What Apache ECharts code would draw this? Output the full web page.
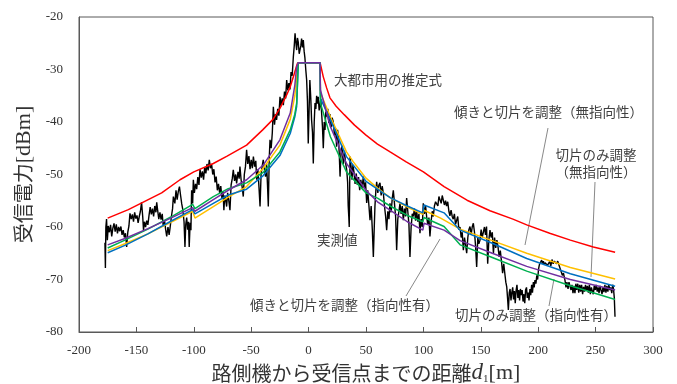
<!DOCTYPE html>
<html>
<head>
<meta charset="utf-8">
<script src="https://cdn.jsdelivr.net/npm/echarts@6/dist/echarts.min.js"></script>
<style>
html, body { margin: 0; padding: 0; background: #ffffff; }
#chart { width: 677px; height: 384px; }
</style>
</head>
<body>
<div id="chart"></div>
<script>
// 受信電力の実測値 [距離 d1 (m), 受信電力 (dBm)]
const measured = [
  [-177.4,-63.0],[-177.0,-67.8],[-176.6,-60.0],[-176.0,-58.5],[-175.3,-62.5],[-174.5,-59.8],
  [-173.5,-61.0],[-172.5,-59.6],[-171.5,-61.8],[-170.5,-60.2],[-169.5,-59.3],[-168.5,-60.9],
  [-167.5,-59.5],[-166.5,-61.2],[-165.5,-60.0],[-164.5,-60.8],[-163.5,-59.9],[-162.5,-61.5],
  [-161.5,-60.6],[-160.5,-62.0],[-159.5,-61.2],[-158.5,-63.8],[-157.5,-61.0],[-156.5,-59.8],
  [-155.6,-57.4],[-154.5,-58.5],[-153.5,-57.6],[-152.5,-59.0],[-151.5,-57.2],[-150.5,-58.4],
  [-149.5,-57.8],[-148.5,-59.2],[-147.5,-58.0],[-146.5,-57.0],[-145.5,-55.3],[-144.5,-58.0],
  [-143.8,-60.6],[-143.0,-59.0],[-142.0,-60.0],[-141.0,-58.8],[-140.0,-59.6],[-139.0,-57.8],
  [-138.0,-56.2],[-137.0,-57.6],[-136.0,-56.5],[-135.0,-58.0],[-134.0,-56.0],[-133.0,-57.2],
  [-132.3,-55.3],[-131.5,-56.8],[-130.5,-58.5],[-129.5,-57.2],[-128.5,-58.6],[-127.5,-57.5],
  [-126.6,-59.9],[-125.5,-58.8],[-124.5,-60.5],[-123.6,-61.8],[-122.5,-60.0],[-121.5,-61.5],
  [-120.7,-60.2],[-119.5,-58.0],[-118.5,-56.5],[-117.8,-54.2],[-116.5,-55.5],[-115.5,-53.0],
  [-114.5,-54.8],[-113.5,-53.2],[-112.5,-52.3],[-111.5,-54.0],[-110.5,-55.6],[-109.5,-56.8],
  [-108.5,-59.0],[-107.7,-63.8],[-107.0,-59.5],[-106.2,-58.2],[-105.4,-60.5],[-104.6,-59.0],
  [-104.0,-63.8],[-103.2,-59.2],[-102.5,-60.6],[-101.9,-53.0],[-101.0,-55.5],[-100.4,-51.0],
  [-99.5,-53.5],[-98.5,-51.8],[-97.5,-52.8],[-96.5,-50.5],[-95.5,-52.0],[-94.6,-49.0],
  [-93.5,-50.6],[-92.5,-49.4],[-91.5,-51.0],[-90.5,-48.6],[-89.5,-49.8],[-88.5,-48.0],
  [-87.5,-49.2],[-86.5,-47.2],[-85.5,-48.8],[-84.5,-48.0],[-83.5,-50.0],[-82.5,-49.0],
  [-81.5,-51.5],[-80.5,-50.4],[-79.5,-53.0],[-78.5,-51.8],[-77.5,-53.5],[-76.5,-52.2],
  [-75.5,-54.5],[-74.5,-53.2],[-73.8,-56.8],[-73.0,-54.0],[-72.0,-55.2],[-71.4,-56.1],
  [-70.5,-53.5],[-69.5,-55.0],[-68.5,-56.8],[-67.5,-52.0],[-66.5,-50.8],[-65.6,-49.1],
  [-64.5,-51.2],[-63.5,-50.0],[-62.7,-51.7],[-61.5,-49.5],[-60.5,-50.8],[-59.8,-48.5],
  [-58.8,-51.0],[-57.8,-52.5],[-56.9,-54.2],[-56.0,-50.0],[-55.0,-48.5],[-54.0,-45.3],
  [-53.0,-48.0],[-52.0,-46.5],[-51.0,-49.0],[-50.0,-47.2],[-49.0,-48.8],[-48.1,-46.6],
  [-47.0,-48.5],[-46.0,-47.4],[-45.2,-51.0],[-44.2,-49.0],[-43.2,-52.5],[-42.3,-56.1],
  [-41.4,-50.0],[-40.5,-48.5],[-39.5,-47.2],[-38.5,-49.0],[-37.5,-50.4],[-36.6,-48.0],
  [-35.8,-52.0],[-35.1,-56.1],[-34.3,-47.0],[-33.6,-43.4],[-32.6,-45.0],[-31.6,-42.0],
  [-30.7,-37.1],[-29.7,-40.5],[-28.8,-38.5],[-27.9,-39.6],[-26.9,-37.5],[-25.9,-38.8],
  [-24.9,-35.2],[-24.0,-37.0],[-23.0,-35.5],[-22.0,-36.8],[-21.0,-34.2],[-20.0,-35.5],
  [-19.1,-32.0],[-18.1,-34.0],[-17.2,-32.6],[-16.2,-33.8],[-15.3,-30.5],[-14.3,-31.2],
  [-13.3,-27.6],[-12.5,-25.5],[-11.8,-23.1],[-11.0,-25.0],[-10.4,-26.3],[-9.7,-24.0],
  [-9.0,-24.8],[-8.2,-27.0],[-7.5,-26.9],[-6.8,-25.5],[-6.1,-24.1],[-5.3,-25.8],
  [-4.6,-24.4],[-3.9,-26.5],[-3.2,-27.8],[-2.4,-30.2],[-1.7,-32.0],[-1.0,-36.0],
  [-0.3,-44.1],[0.4,-38.0],[1.1,-32.0],[1.9,-35.5],[2.6,-39.6],[3.4,-42.0],
  [4.1,-47.9],[4.9,-40.0],[5.6,-36.4],[6.3,-37.5],[7.0,-35.0],[7.7,-36.5],
  [8.4,-35.2],[9.2,-37.8],[9.9,-36.8],[10.6,-35.6],[11.4,-38.5],[12.1,-41.0],
  [12.8,-45.0],[13.6,-40.0],[14.3,-41.5],[15.0,-38.0],[15.8,-39.0],[16.7,-37.5],
  [17.6,-40.2],[18.6,-38.5],[19.6,-41.0],[20.5,-39.2],[21.5,-40.0],[22.5,-42.5],
  [23.5,-41.2],[24.4,-44.7],[25.2,-41.5],[25.9,-42.6],[26.7,-46.0],[27.4,-50.4],
  [28.2,-46.0],[29.0,-44.5],[29.7,-46.5],[30.3,-48.0],[31.2,-45.5],[32.2,-47.8],
  [33.2,-49.1],[34.0,-51.5],[34.5,-56.0],[35.0,-58.0],[35.4,-60.0],[35.8,-52.0],
  [36.1,-46.6],[37.0,-48.5],[37.8,-51.0],[38.6,-48.2],[39.5,-49.5],[40.5,-51.8],
  [41.5,-49.8],[42.5,-52.0],[43.5,-50.5],[44.5,-53.0],[45.5,-51.0],[46.5,-52.6],
  [47.7,-50.4],[48.7,-52.8],[49.6,-51.5],[50.6,-55.4],[51.5,-53.0],[52.5,-55.8],
  [53.5,-58.7],[54.5,-56.0],[55.5,-60.5],[56.4,-65.7],[57.2,-60.0],[57.8,-56.0],
  [58.6,-53.0],[59.3,-51.4],[60.3,-53.5],[61.2,-52.0],[62.2,-51.6],[63.2,-54.0],
  [64.1,-52.2],[65.1,-53.5],[66.1,-56.0],[67.1,-58.0],[68.0,-60.6],[69.0,-57.0],
  [70.0,-58.5],[70.9,-55.5],[71.9,-57.2],[72.9,-54.5],[73.8,-53.0],[74.8,-55.5],
  [75.8,-58.0],[76.7,-64.4],[77.7,-58.5],[78.7,-57.0],[79.6,-55.5],[80.6,-57.5],
  [81.6,-56.0],[82.5,-58.7],[83.5,-56.5],[84.5,-58.0],[85.4,-54.5],[86.4,-57.0],
  [87.4,-59.5],[88.3,-65.7],[89.3,-60.0],[90.3,-57.5],[91.2,-58.0],[92.2,-56.5],
  [93.2,-58.8],[94.1,-56.8],[95.1,-59.0],[96.1,-57.5],[97.0,-61.2],[98.0,-58.5],
  [99.0,-60.0],[99.9,-55.5],[100.9,-57.5],[101.9,-56.0],[102.8,-58.0],[103.8,-59.5],
  [104.8,-58.2],[105.7,-61.8],[106.7,-59.0],[107.7,-57.0],[108.6,-58.0],[109.6,-56.0],
  [110.6,-55.2],[111.6,-54.9],[112.6,-56.0],[113.5,-54.2],[114.5,-54.2],[115.5,-55.5],
  [116.4,-54.0],[117.3,-54.2],[118.3,-55.8],[119.3,-55.0],[120.2,-56.0],[121.2,-55.2],
  [122.2,-57.0],[123.1,-57.9],[124.1,-56.8],[125.1,-58.0],[126.0,-58.5],[127.0,-57.5],
  [128.0,-59.5],[128.9,-59.2],[129.9,-58.0],[130.9,-60.5],[131.9,-60.0],[132.9,-62.0],
  [133.8,-61.0],[134.8,-64.4],[135.8,-62.0],[136.8,-63.5],[137.7,-65.0],[138.7,-62.0],
  [139.6,-60.5],[140.6,-59.9],[141.6,-61.5],[142.5,-60.0],[143.5,-59.3],[144.5,-61.0],
  [145.4,-63.5],[146.4,-67.6],[147.4,-62.0],[148.3,-63.2],[149.3,-62.5],[150.3,-60.5],
  [151.2,-62.0],[152.2,-61.0],[153.2,-60.0],[154.1,-61.5],[155.0,-59.9],[156.0,-67.0],
  [157.0,-62.5],[158.0,-60.6],[159.0,-62.0],[160.0,-61.0],[161.0,-65.0],[162.0,-62.0],
  [163.0,-64.0],[164.0,-62.5],[165.0,-63.8],[166.0,-65.7],[167.0,-64.5],[168.0,-66.5],
  [169.0,-68.8],[170.0,-67.0],[171.0,-69.0],[171.8,-70.5],[172.6,-71.4],[173.3,-73.5],
  [174.0,-75.8],[174.8,-72.5],[175.5,-71.8],[176.3,-74.0],[177.0,-72.5],[177.8,-71.5],
  [178.5,-73.8],[179.3,-72.2],[180.0,-74.5],[180.8,-72.0],[181.5,-71.0],[182.3,-73.5],
  [183.0,-72.0],[183.8,-74.0],[184.5,-71.8],[185.3,-73.0],[186.0,-72.0],[186.8,-74.2],
  [187.5,-72.8],[188.3,-74.5],[189.0,-72.0],[189.8,-71.5],[190.5,-73.5],[191.3,-72.5],
  [192.0,-74.0],[192.8,-71.8],[193.5,-73.0],[194.3,-71.0],[195.0,-72.5],[195.8,-70.5],
  [196.5,-71.5],[197.2,-70.1],[198.0,-70.8],[198.8,-69.2],[199.5,-70.0],[200.3,-68.0],
  [201.0,-67.2],[201.6,-66.9],[202.3,-67.5],[203.0,-66.3],[203.8,-67.0],[204.5,-66.5],
  [205.3,-67.2],[206.0,-66.8],[207.0,-66.5],[208.0,-67.3],[209.0,-67.0],[210.0,-66.6],
  [211.0,-67.4],[212.0,-66.2],[213.0,-67.0],[214.0,-66.5],[215.0,-66.3],[216.0,-67.0],
  [217.0,-66.5],[218.0,-67.2],[219.0,-67.5],[220.0,-68.5],[221.0,-69.2],[222.0,-68.8],
  [223.3,-70.1],[224.2,-71.5],[225.0,-70.5],[226.0,-71.8],[226.8,-70.5],[227.7,-70.7],
  [228.6,-72.0],[229.4,-71.0],[230.3,-72.6],[231.2,-71.2],[232.0,-72.6],[232.8,-70.8],
  [233.6,-72.0],[234.5,-70.8],[235.3,-72.5],[236.2,-71.0],[237.0,-72.3],[237.8,-71.0],
  [238.7,-72.8],[239.5,-71.4],[240.4,-72.3],[241.2,-71.0],[242.0,-72.0],[242.9,-71.2],
  [243.7,-72.5],[244.6,-71.0],[245.4,-72.8],[246.3,-71.5],[247.1,-72.2],[248.0,-72.8],
  [248.8,-71.2],[249.7,-72.0],[250.5,-71.0],[251.4,-72.3],[252.2,-71.5],[253.0,-72.6],
  [253.9,-71.2],[254.7,-72.0],[255.6,-72.8],[256.4,-71.5],[257.3,-72.4],[258.1,-71.0],
  [259.0,-72.5],[259.8,-71.2],[260.7,-72.3],[261.5,-71.0],[262.4,-72.0],[263.2,-71.5],
  [264.1,-72.6],[264.9,-71.0],[265.6,-71.8],[266.3,-73.5],[266.9,-77.1]
];

// 大都市用の推定式
const urbanModel = [
  [-175,-58.3],[-157,-56.7],[-128,-53.5],[-112,-51.0],[-100,-49.5],[-83,-47.9],
  [-71,-46.5],[-54,-44.4],[-40,-41.5],[-31,-39.5],[-25,-37.4],[-19,-34.8],
  [-16,-33.3],[-13,-31.2],[-10.4,-29.3],[-9.5,-28.7],[10,-28.7],[12.8,-31.4],
  [15.7,-33.5],[18.6,-35.4],[24,-37.0],[31,-38.6],[40,-40.6],[50,-42.5],
  [60,-44.2],[71,-45.7],[85,-47.6],[100,-49.5],[118,-52.3],[138,-54.9],
  [158,-56.9],[178,-58.5],[190,-59.6],[210,-61.2],[228,-62.5],[248,-63.8],[267,-64.8]
];

// 傾きと切片を調整（無指向性）
const slopeInterceptOmni = [
  [-175,-64.5],[-160,-63.2],[-140,-61.3],[-120,-59.1],[-101,-57.0],[-99,-58.3],
  [-83,-56.1],[-70,-54.3],[-54,-52.3],[-39.5,-48.8],[-25,-44.4],[-16,-39.5],
  [-12,-35.0],[-10.4,-31.5],[-9,-28.7],[10,-28.7],[10.3,-34.5],[19,-39.0],
  [33,-45.7],[39,-47.6],[50,-50.7],[60,-52.6],[71,-54.4],[86,-56.2],[99.5,-57.6],
  [100.5,-56.8],[115,-58.3],[132,-60.4],[160,-62.6],[190,-65.0],[228,-67.7],[267,-69.9]
];

// 切片のみ調整（無指向性）
const interceptOmni = [
  [-175,-64.9],[-160,-63.5],[-140,-61.3],[-120,-58.9],[-101,-56.7],[-99,-57.5],
  [-83,-55.5],[-70,-53.9],[-54,-52.8],[-39.5,-50.2],[-25,-46.4],[-16,-42.2],
  [-12,-39.0],[-10.4,-37.0],[-9,-28.7],[10,-28.7],[10.3,-35.5],[19,-39.6],
  [33,-46.6],[50,-51.3],[60,-52.8],[71,-54.4],[86,-56.0],[99.5,-57.3],
  [100.5,-55.8],[118,-57.3],[132,-60.6],[160,-63.1],[190,-66.0],[228,-68.9],[267,-71.3]
];

// 傾きと切片を調整（指向性有）
const slopeInterceptDir = [
  [-175,-64.0],[-160,-62.5],[-140,-60.4],[-120,-58.1],[-101,-55.7],[-99,-56.5],
  [-83,-54.2],[-70,-52.7],[-54,-51.6],[-39.5,-49.6],[-25,-45.7],[-16,-41.5],
  [-12,-38.5],[-10.4,-36.4],[-9,-28.7],[10,-28.7],[10.3,-36.4],[19,-42.8],
  [33,-49.5],[50,-53.5],[60,-54.5],[71,-56.0],[86,-57.8],[99.5,-59.0],
  [100.5,-58.2],[118,-59.9],[132,-63.4],[160,-65.8],[190,-68.4],[228,-71.2],[267,-73.8]
];

// 切片のみ調整（指向性有）
const interceptDir = [
  [-175,-63.4],[-160,-62.2],[-140,-60.3],[-120,-58.3],[-101,-56.3],[-99,-57.0],
  [-83,-54.8],[-70,-53.0],[-54,-51.0],[-39.5,-48.2],[-25,-43.4],[-16,-38.3],
  [-12,-33.0],[-10.4,-29.5],[-9,-28.7],[10,-28.7],[10.3,-33.9],[19,-40.9],
  [33,-47.9],[50,-53.0],[60,-55.2],[71,-56.8],[86,-59.0],[99.5,-60.6],
  [100.5,-59.3],[118,-60.6],[132,-62.6],[160,-65.0],[190,-67.5],[228,-70.0],[267,-72.0]
];

const serif = '"Liberation Serif", "DejaVu Serif", serif';
const jp = '"Noto Sans CJK JP", sans-serif';
const textGray = '#404040';

function lineSeries(name, data, color, width, z) {
  return {
    name: name,
    type: 'line',
    data: data,
    showSymbol: false,
    symbol: 'none',
    animation: false,
    z: z,
    lineStyle: { color: color, width: width },
    emphasis: { disabled: true }
  };
}

function label(text, x, y, align) {
  return {
    type: 'text',
    x: x, y: y,
    silent: true,
    style: {
      text: text,
      fill: textGray,
      fontFamily: jp,
      fontSize: 13.5,
      align: align || 'left',
      verticalAlign: 'middle'
    }
  };
}

function leader(x1, y1, x2, y2) {
  return {
    type: 'line',
    silent: true,
    shape: { x1: x1, y1: y1, x2: x2, y2: y2 },
    style: { stroke: '#555555', lineWidth: 0.7 }
  };
}

const chart = echarts.init(document.getElementById('chart'), null, { renderer: 'canvas' });

chart.setOption({
  animation: false,
  backgroundColor: '#ffffff',
  grid: {
    left: 79, right: 24, top: 17, bottom: 52,
    containLabel: false,
    outerBoundsMode: 'none',
    show: true,
    borderColor: '#595959',
    borderWidth: 1
  },
  xAxis: {
    type: 'value',
    min: -200, max: 300, interval: 50,
    name: '{t|路側機から受信点までの距離}{d|d}{s|1}{m|[m]}',
    nameLocation: 'middle',
    nameGap: 28,
    nameTextStyle: {
      rich: {
        t: { fontFamily: jp, fontSize: 20, color: '#333333' },
        d: { fontFamily: serif, fontStyle: 'italic', fontSize: 23, color: '#333333' },
        s: { fontFamily: serif, fontSize: 11, color: '#333333', padding: [12, 0, 0, 0] },
        m: { fontFamily: serif, fontSize: 22, color: '#333333' }
      }
    },
    axisLine: { onZero: false, lineStyle: { color: '#595959', width: 1 } },
    axisTick: { show: true, inside: true, length: 5, lineStyle: { color: '#595959' } },
    axisLabel: { fontFamily: serif, fontSize: 13, color: '#333333', margin: 12 },
    splitLine: { show: false }
  },
  yAxis: {
    type: 'value',
    min: -80, max: -20, interval: 10,
    name: '{t|受信電力}{m|[dBm]}',
    nameLocation: 'middle',
    nameRotate: 90,
    nameGap: 42,
    nameTextStyle: {
      rich: {
        t: { fontFamily: jp, fontSize: 20, color: '#333333' },
        m: { fontFamily: serif, fontSize: 22, color: '#333333' }
      }
    },
    axisLine: { show: true, onZero: false, lineStyle: { color: '#595959', width: 1 } },
    axisTick: { show: false },
    axisLabel: { fontFamily: serif, fontSize: 13, color: '#333333', margin: 16 },
    splitLine: { show: false }
  },
  series: [
    lineSeries('実測値', measured, '#000000', 1.4, 2),
    lineSeries('大都市用の推定式', urbanModel, '#ff0000', 1.5, 3),
    lineSeries('傾きと切片を調整（無指向性）', slopeInterceptOmni, '#ffc000', 1.5, 4),
    lineSeries('切片のみ調整（無指向性）', interceptOmni, '#0070c0', 1.5, 5),
    lineSeries('傾きと切片を調整（指向性有）', slopeInterceptDir, '#00b050', 1.5, 6),
    lineSeries('切片のみ調整（指向性有）', interceptDir, '#7030a0', 1.5, 7)
  ],
  graphic: [
    label('大都市用の推定式', 334, 80),
    label('傾きと切片を調整（無指向性）', 454, 112),
    label('切片のみ調整', 596, 155, 'center'),
    label('（無指向性）', 596, 172, 'center'),
    label('実測値', 317, 240),
    label('傾きと切片を調整（指向性有）', 250, 305),
    label('切片のみ調整（指向性有）', 455, 315),
    leader(548, 128, 525, 245),
    leader(595, 182, 591, 277),
    leader(406, 296, 440, 239),
    leader(549, 306, 554, 279)
  ]
});
</script>
</body>
</html>
